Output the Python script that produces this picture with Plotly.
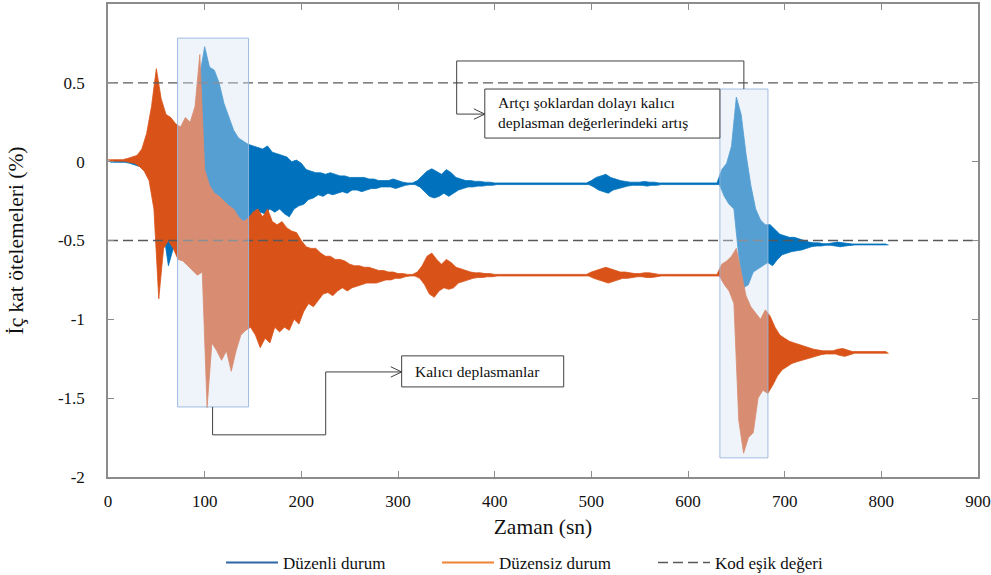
import plotly.graph_objects as go

# Sampling of the envelope records (seconds)
T_STEP = 5
t_knots = list(range(0, 810, T_STEP))

# Düzenli durum: upper / lower extremes of drift (%) in each 5 s window
blue_hi = [
    0.003, 0.003, 0.003, 0.004, 0.01, 0.02, 0.03, 0.06, 0.14, 0.24,
    0.30, 0.32, 0.29, 0.26, 0.22, 0.20, 0.22, 0.18, 0.30, 0.55,
    0.73, 0.60, 0.58, 0.50, 0.37, 0.28, 0.20, 0.15, 0.13, 0.11,
    0.10, 0.09, 0.08, 0.10, 0.06, 0.05, 0.04, 0.03, 0.00, 0.01,
    -0.01, -0.05, -0.06, -0.07, -0.07, -0.08, -0.07, -0.08, -0.09, -0.09,
    -0.10, -0.10, -0.10, -0.10, -0.11, -0.11, -0.12, -0.12, -0.12, -0.11,
    -0.12, -0.13, -0.135, -0.135, -0.12, -0.09, -0.06, -0.045, -0.06, -0.08,
    -0.05, -0.07, -0.10, -0.11, -0.12, -0.12, -0.125, -0.125, -0.13, -0.13,
    -0.135, -0.135, -0.135, -0.135, -0.135, -0.135, -0.135, -0.135, -0.135, -0.135,
    -0.135, -0.135, -0.135, -0.135, -0.135, -0.135, -0.135, -0.135, -0.135, -0.135,
    -0.12, -0.10, -0.09, -0.08, -0.10, -0.11, -0.12, -0.125, -0.13, -0.13,
    -0.13, -0.125, -0.13, -0.13, -0.135, -0.135, -0.135, -0.135, -0.135, -0.135,
    -0.135, -0.135, -0.135, -0.135, -0.135, -0.135, -0.135, -0.05, -0.01, 0.10,
    0.41, 0.30, 0.05, -0.15, -0.30, -0.37, -0.40, -0.40, -0.43, -0.46,
    -0.47, -0.48, -0.48, -0.49, -0.50, -0.51, -0.515, -0.515, -0.52, -0.52,
    -0.515, -0.51, -0.515, -0.52, -0.522, -0.522, -0.522, -0.522, -0.522, -0.522,
    -0.522, -0.522,
]
blue_lo = [
    -0.003, -0.003, -0.003, -0.004, -0.01, -0.02, -0.03, -0.05, -0.10, -0.22,
    -0.30, -0.45, -0.66, -0.55, -0.50, -0.45, -0.50, -0.45, -0.40, -0.30,
    -0.20, -0.25, -0.30, -0.35, -0.37, -0.38, -0.36, -0.38, -0.37, -0.35,
    -0.33, -0.32, -0.33, -0.30, -0.32, -0.30, -0.33, -0.35, -0.30, -0.28,
    -0.27, -0.24, -0.23, -0.21, -0.22, -0.20, -0.21, -0.20, -0.19, -0.20,
    -0.18, -0.18, -0.19, -0.18, -0.17, -0.17, -0.16, -0.16, -0.16, -0.17,
    -0.16, -0.15, -0.145, -0.145, -0.16, -0.19, -0.22, -0.23, -0.22, -0.20,
    -0.22, -0.20, -0.18, -0.17, -0.16, -0.16, -0.155, -0.155, -0.15, -0.15,
    -0.145, -0.145, -0.145, -0.145, -0.145, -0.145, -0.145, -0.145, -0.145, -0.145,
    -0.145, -0.145, -0.145, -0.145, -0.145, -0.145, -0.145, -0.145, -0.145, -0.145,
    -0.16, -0.18, -0.19, -0.20, -0.18, -0.17, -0.16, -0.155, -0.15, -0.15,
    -0.15, -0.155, -0.15, -0.15, -0.145, -0.145, -0.145, -0.145, -0.145, -0.145,
    -0.145, -0.145, -0.145, -0.145, -0.145, -0.145, -0.145, -0.22, -0.27, -0.30,
    -0.60, -0.80, -0.78, -0.70, -0.68, -0.66, -0.64, -0.66, -0.62, -0.59,
    -0.58, -0.57, -0.565, -0.56, -0.55, -0.54, -0.535, -0.535, -0.53, -0.53,
    -0.535, -0.54, -0.535, -0.53, -0.528, -0.528, -0.528, -0.528, -0.528, -0.528,
    -0.528, -0.528,
]

# Düzensiz durum: upper / lower extremes of drift (%) in each 5 s window
orange_hi = [
    0.012, 0.012, 0.012, 0.013, 0.02, 0.03, 0.04, 0.08, 0.18, 0.35,
    0.59, 0.40, 0.30, 0.28, 0.24, 0.22, 0.28, 0.25, 0.35, 0.68,
    -0.05, -0.15, -0.20, -0.22, -0.25, -0.28, -0.30, -0.35, -0.38, -0.36,
    -0.32, -0.30, -0.35, -0.30, -0.38, -0.40, -0.38, -0.42, -0.44, -0.45,
    -0.50, -0.54, -0.55, -0.55, -0.58, -0.60, -0.60, -0.62, -0.62, -0.63,
    -0.65, -0.66, -0.66, -0.67, -0.67, -0.68, -0.69, -0.69, -0.70, -0.70,
    -0.71, -0.71, -0.715, -0.715, -0.70, -0.66, -0.60, -0.58, -0.62, -0.65,
    -0.62, -0.64, -0.67, -0.68, -0.69, -0.70, -0.705, -0.705, -0.71, -0.71,
    -0.715, -0.715, -0.715, -0.715, -0.715, -0.715, -0.715, -0.715, -0.715, -0.715,
    -0.715, -0.715, -0.715, -0.715, -0.715, -0.715, -0.715, -0.715, -0.715, -0.715,
    -0.70, -0.69, -0.68, -0.67, -0.68, -0.69, -0.70, -0.70, -0.705, -0.71,
    -0.71, -0.705, -0.705, -0.71, -0.715, -0.715, -0.715, -0.715, -0.715, -0.715,
    -0.715, -0.715, -0.715, -0.715, -0.715, -0.715, -0.715, -0.65, -0.63, -0.60,
    -0.55, -0.70, -0.85, -0.92, -0.96, -1.00, -0.94, -0.98, -1.05, -1.10,
    -1.12, -1.14, -1.15, -1.16, -1.17, -1.18, -1.19, -1.195, -1.20, -1.20,
    -1.20, -1.19, -1.185, -1.195, -1.205, -1.205, -1.205, -1.205, -1.205, -1.205,
    -1.205, -1.205,
]
orange_lo = [
    0.004, 0.004, 0.004, 0.003, -0.005, -0.01, -0.03, -0.06, -0.12, -0.30,
    -0.87, -0.55, -0.50, -0.55, -0.62, -0.63, -0.66, -0.69, -0.72, -0.70,
    -1.56, -1.15, -1.20, -1.26, -1.20, -1.33, -1.20, -1.10, -1.07, -1.05,
    -1.10, -1.18, -1.12, -1.15, -1.05, -1.08, -1.05, -1.07, -1.00, -1.03,
    -0.95, -0.90, -0.92, -0.88, -0.84, -0.83, -0.85, -0.82, -0.80, -0.82,
    -0.80, -0.79, -0.78, -0.77, -0.77, -0.77, -0.76, -0.75, -0.75, -0.74,
    -0.74, -0.73, -0.725, -0.725, -0.74, -0.78, -0.84, -0.86, -0.82, -0.80,
    -0.81, -0.80, -0.77, -0.76, -0.75, -0.74, -0.735, -0.735, -0.73, -0.73,
    -0.725, -0.725, -0.725, -0.725, -0.725, -0.725, -0.725, -0.725, -0.725, -0.725,
    -0.725, -0.725, -0.725, -0.725, -0.725, -0.725, -0.725, -0.725, -0.725, -0.725,
    -0.74, -0.75, -0.76, -0.77, -0.76, -0.75, -0.74, -0.74, -0.735, -0.73,
    -0.73, -0.735, -0.735, -0.73, -0.725, -0.725, -0.725, -0.725, -0.725, -0.725,
    -0.725, -0.725, -0.725, -0.725, -0.725, -0.725, -0.725, -0.78, -0.82, -0.90,
    -1.64, -1.85, -1.75, -1.72, -1.50, -1.45, -1.47, -1.42, -1.36, -1.32,
    -1.30, -1.28, -1.27, -1.26, -1.25, -1.24, -1.23, -1.225, -1.22, -1.22,
    -1.22, -1.23, -1.235, -1.225, -1.215, -1.215, -1.215, -1.215, -1.215, -1.215,
    -1.215, -1.215,
]

# Code drift limits (%)
thresholds = [0.5, -0.5]

series_names = ["Düzenli durum", "Düzensiz durum", "Kod eşik değeri"]
x_ticks = [0, 100, 200, 300, 400, 500, 600, 700, 800, 900]
y_ticks = [-2, -1.5, -1, -0.5, 0, 0.5, 1]
y_ticktext = ["-2", "-1.5", "-1", "-0.5", "0", "0.5", "1"]

BLUE = "#0072BD"
ORANGE = "#D95319"
SERIF = "Liberation Serif"


def add_record(fig, hi, lo, color):
    """Min/max band of a response record: upper extremes filled down to lower ones."""
    t_hi = list(t_knots)
    t_lo = [t + T_STEP / 2 for t in t_knots]
    fig.add_trace(go.Scatter(x=t_hi, y=hi, mode="lines", showlegend=False,
                             line=dict(color=color, width=0.8), hoverinfo="skip"))
    fig.add_trace(go.Scatter(x=t_lo, y=lo, mode="lines", showlegend=False,
                             fill="tonexty", fillcolor=color,
                             line=dict(color=color, width=0.8), hoverinfo="skip"))


fig = go.Figure()
add_record(fig, blue_hi, blue_lo, BLUE)
add_record(fig, orange_hi, orange_lo, ORANGE)

# Threshold lines
thr_x, thr_y = [], []
for v in thresholds:
    thr_x += [x_ticks[0], x_ticks[-1], None]
    thr_y += [v, v, None]
fig.add_trace(go.Scatter(x=thr_x, y=thr_y, mode="lines", name=series_names[2],
                         line=dict(color="#595959", width=1.4, dash="10px,5px"),
                         legendrank=3))

# Legend entries for the two response records
fig.add_trace(go.Scatter(x=[None], y=[None], mode="lines", name=series_names[0],
                         line=dict(color="#2E64A8", width=2), legendrank=1))
fig.add_trace(go.Scatter(x=[None], y=[None], mode="lines", name=series_names[1],
                         line=dict(color="#EE8433", width=2), legendrank=2))

# Highlight boxes around the residual-displacement zones
box_fill = "rgba(214,228,244,0.40)"
box_line = dict(color="rgba(150,182,222,0.9)", width=1)
fig.add_shape(type="rect", x0=72, x1=145.4, y0=-1.556, y1=0.784,
              xref="x", yref="y", fillcolor=box_fill, line=box_line, layer="above")
fig.add_shape(type="rect", x0=633, x1=682.7, y0=-1.879, y1=0.461,
              xref="x", yref="y", fillcolor=box_fill, line=box_line, layer="above")

conn = dict(color="#404040", width=1)

# Callout: aftershock increase
fig.add_shape(type="rect", x0=389.8, x1=633, y0=0.150, y1=0.461,
              xref="x", yref="y", fillcolor="white", line=conn, layer="above")
fig.add_shape(type="path", xref="x", yref="y", layer="above", line=conn,
              path="M 657.8 0.461 L 657.8 0.639 L 360.7 0.639 L 360.7 0.302 L 389.8 0.302")
fig.add_shape(type="path", xref="x", yref="y", layer="above", line=conn,
              path="M 378.5 0.335 L 389.8 0.302 L 378.5 0.269")
fig.add_annotation(x=401, y=0.309, xref="x", yref="y", xanchor="left", yanchor="middle",
                   align="left", showarrow=False,
                   text="Artçı şoklardan dolayı kalıcı<br>deplasman değerlerindeki artış",
                   font=dict(family=SERIF, size=15.5, color="#111111"))

# Callout: residual displacements
fig.add_shape(type="rect", x0=303.8, x1=471.4, y0=-1.429, y1=-1.232,
              xref="x", yref="y", fillcolor="white", line=conn, layer="above")
fig.add_shape(type="path", xref="x", yref="y", layer="above", line=conn,
              path="M 108.2 -1.556 L 108.2 -1.733 L 225.2 -1.733 L 225.2 -1.334 L 303.8 -1.334")
fig.add_shape(type="path", xref="x", yref="y", layer="above", line=conn,
              path="M 292.5 -1.301 L 303.8 -1.334 L 292.5 -1.367")
fig.add_annotation(x=315, y=-1.334, xref="x", yref="y", xanchor="left", yanchor="middle",
                   align="left", showarrow=False, text="Kalıcı deplasmanlar",
                   font=dict(family=SERIF, size=15.5, color="#111111"))

axis_common = dict(
    showline=True, linecolor="#8c8c8c", linewidth=1.5, mirror="ticks",
    ticks="inside", ticklen=6, tickcolor="#8c8c8c", tickwidth=1.2,
    showgrid=False, zeroline=False, automargin=False,
    tickfont=dict(family=SERIF, size=17, color="#111111"),
)

fig.update_xaxes(range=[0, 900], tickvals=x_ticks, ticklabelstandoff=8,
                 title=dict(text="Zaman (sn)", standoff=9,
                            font=dict(family=SERIF, size=21.5, color="#111111")),
                 **axis_common)
fig.update_yaxes(range=[-2.0005, 1.0005], tickvals=y_ticks, ticktext=y_ticktext,
                 ticklabelstandoff=18,
                 title=dict(text="İç kat ötelemeleri (%)", standoff=28,
                            font=dict(family=SERIF, size=21.5, color="#111111")),
                 **axis_common)

fig.update_layout(
    width=991, height=575, autosize=False,
    margin=dict(l=108, r=13, t=4, b=98),
    plot_bgcolor="white", paper_bgcolor="white",
    legend=dict(orientation="h", xref="container", yref="container",
                x=221 / 991, xanchor="left", y=(575 - 563) / 575, yanchor="middle",
                entrywidth=149, entrywidthmode="pixels", itemwidth=52,
                font=dict(family=SERIF, size=17, color="#111111"),
                bgcolor="rgba(0,0,0,0)", traceorder="normal"),
)

fig.write_html("out.html")
